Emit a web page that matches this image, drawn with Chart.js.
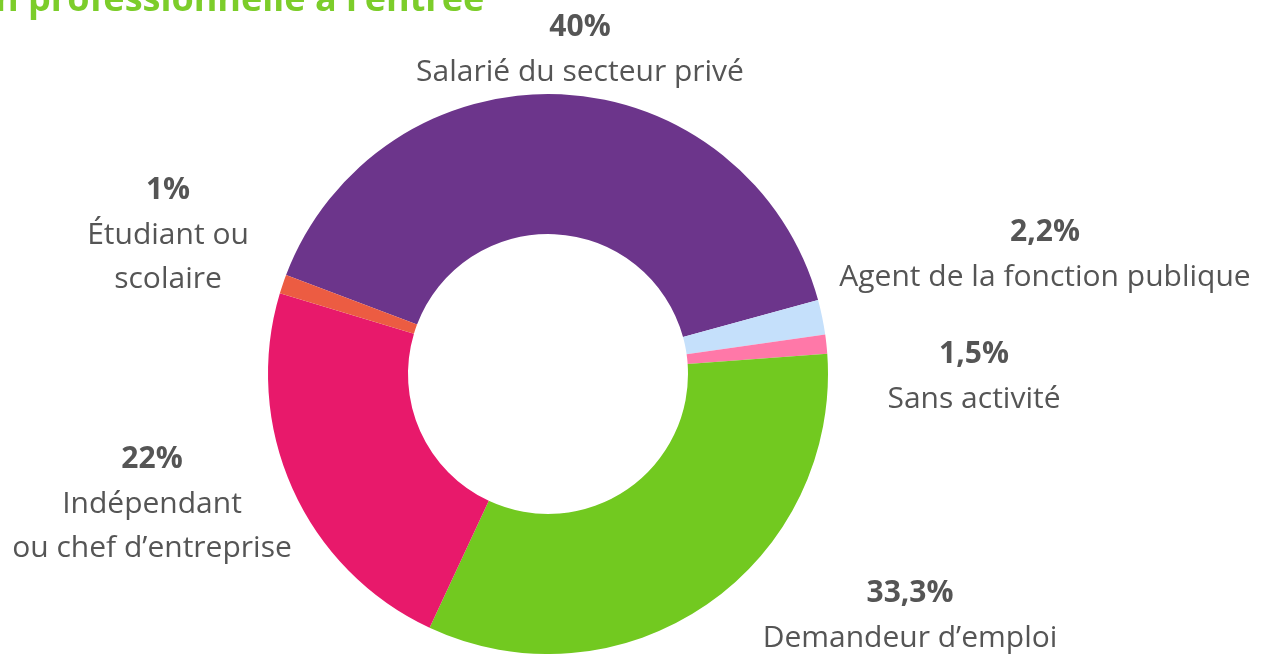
<!DOCTYPE html>
<html lang="fr">
<head>
<meta charset="UTF-8">
<title>Situation professionnelle à l'entrée</title>
<script src="https://cdn.jsdelivr.net/npm/chart.js"></script>
<style>
  html, body { margin: 0; padding: 0; background: #fff; }
  #wrap { width: 1270px; height: 654px; position: relative; }
</style>
</head>
<body>
<div id="wrap"><canvas id="donut"></canvas></div>
<script>
  const categories = ['Salarié du secteur privé', 'Agent de la fonction publique', 'Sans activité',
                      'Demandeur d\u2019emploi', 'Indépendant ou chef d\u2019entreprise', 'Étudiant ou scolaire'];
  const values = [40, 2, 1.1, 33.1, 22.7, 1.1];
  const valueLabels = ['40%', '2,2%', '1,5%', '33,3%', '22%', '1%'];
  const colors = ['#6c358b', '#c5e0fb', '#ff78a8', '#72c920', '#e8196b', '#ec5c42'];

  // lignes de texte pour chaque étiquette
  const labelLines = [
    ['Salarié du secteur privé'],
    ['Agent de la fonction publique'],
    ['Sans activité'],
    ['Demandeur d\u2019emploi'],
    ['Indépendant', 'ou chef d\u2019entreprise'],
    ['Étudiant ou', 'scolaire']
  ];
  // position (centre x, y du pourcentage)
  const labelPos = [
    [580, 27], [1045, 232], [974, 354], [910, 593], [152, 459], [168, 190]
  ];

  const FONT = '"Open Sans", Lato, sans-serif';

  const labelsPlugin = {
    id: 'outLabels',
    afterDraw(chart) {
      const ctx = chart.ctx;
      ctx.save();
      // titre coupé en haut
      ctx.fillStyle = '#7ccd2a';
      ctx.font = 'bold 36px ' + FONT;
      ctx.textAlign = 'left';
      ctx.textBaseline = 'alphabetic';
      ctx.fillText('n professionnelle à l\u2019entrée', -5, 11);

      ctx.textAlign = 'center';
      ctx.textBaseline = 'middle';
      labelPos.forEach((p, i) => {
        ctx.fillStyle = '#555555';
        ctx.font = 'bold 30px ' + FONT;
        ctx.fillText(valueLabels[i], p[0], p[1]);
        ctx.font = '30px ' + FONT;
        labelLines[i].forEach((line, j) => {
          ctx.fillText(line, p[0], p[1] + 45 + j * 44);
        });
      });
      ctx.restore();
    }
  };

  const chart = new Chart(document.getElementById('donut'), {
    type: 'doughnut',
    data: {
      labels: categories,
      datasets: [{
        data: values,
        backgroundColor: colors,
        borderWidth: 0
      }]
    },
    options: {
      responsive: true,
      maintainAspectRatio: false,
      animation: false,
      rotation: -69.3,
      cutout: '50%',
      layout: { padding: { left: 268, right: 442, top: 94, bottom: 0 } },
      plugins: {
        legend: { display: false },
        tooltip: { enabled: false },
        title: { display: false }
      }
    },
    plugins: [labelsPlugin]
  });
</script>
</body>
</html>
